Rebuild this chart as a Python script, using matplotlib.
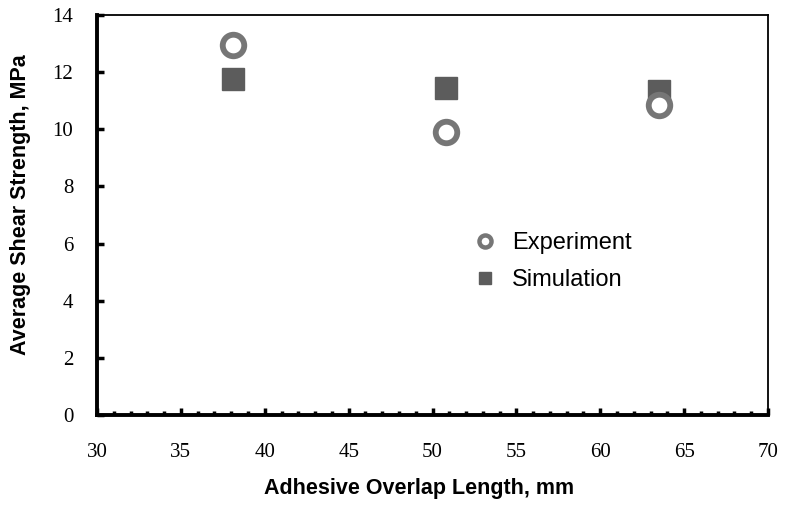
import numpy as np
import matplotlib.pyplot as plt
from matplotlib.ticker import MultipleLocator

overlap = [38.1, 50.8, 63.5]
experiment = [12.95, 9.9, 10.85]
simulation = [11.75, 11.45, 11.35]

xticks = [30, 35, 40, 45, 50, 55, 60, 65, 70]
yticks = [0, 2, 4, 6, 8, 10, 12, 14]

fig = plt.figure(figsize=(7.92, 5.05), dpi=100)
ax = fig.add_axes([97/792, 1-415/505, (768-97)/792, (415-15)/505])

ax.plot(overlap, simulation, linestyle="none", marker="s", markersize=15.5,
        color="#5c5c5c", label="Simulation", zorder=3)
ax.plot(overlap, experiment, linestyle="none", marker="o", markersize=15.5,
        markerfacecolor="white", markeredgecolor="#767676", markeredgewidth=4.2,
        label="Experiment", zorder=4)

ax.set_xlim(30, 70)
ax.set_ylim(0, 14)
ax.set_xticks(xticks)
ax.set_yticks(yticks)
ax.xaxis.set_minor_locator(MultipleLocator(1))

for s in ["left", "bottom"]:
    ax.spines[s].set_linewidth(2.8)
for s in ["top", "right"]:
    ax.spines[s].set_linewidth(1.3)

ax.tick_params(axis="both", which="both", direction="in", width=2.5)
ax.tick_params(axis="x", which="major", length=5, pad=20)
ax.tick_params(axis="x", which="minor", length=3)
ax.tick_params(axis="y", which="major", length=5, pad=17)
for lbl in ax.get_xticklabels() + ax.get_yticklabels():
    lbl.set_fontfamily("Liberation Serif")
    lbl.set_fontsize(15)

ax.set_xlabel("Adhesive Overlap Length, mm", fontfamily="Liberation Sans",
              fontweight="bold", fontsize=15.5)
ax.set_ylabel("Average Shear Strength, MPa", fontfamily="Liberation Sans",
              fontweight="bold", fontsize=15.5)
ax.xaxis.set_label_coords(0.48, -0.158)
ax.yaxis.set_label_coords(-0.098, 0.525)

# legend with experiment first
h, l = ax.get_legend_handles_labels()
leg = ax.legend([h[1], h[0]], [l[1], l[0]], loc="upper left",
                bbox_to_anchor=(0.511, 0.51), frameon=False, markerscale=0.56,
                handletextpad=0.15, labelspacing=0.62,
                prop={"family": "Liberation Sans", "size": 17})
leg.legend_handles[0].set_markeredgewidth(3.2)

fig.savefig("out.png", dpi=100)
